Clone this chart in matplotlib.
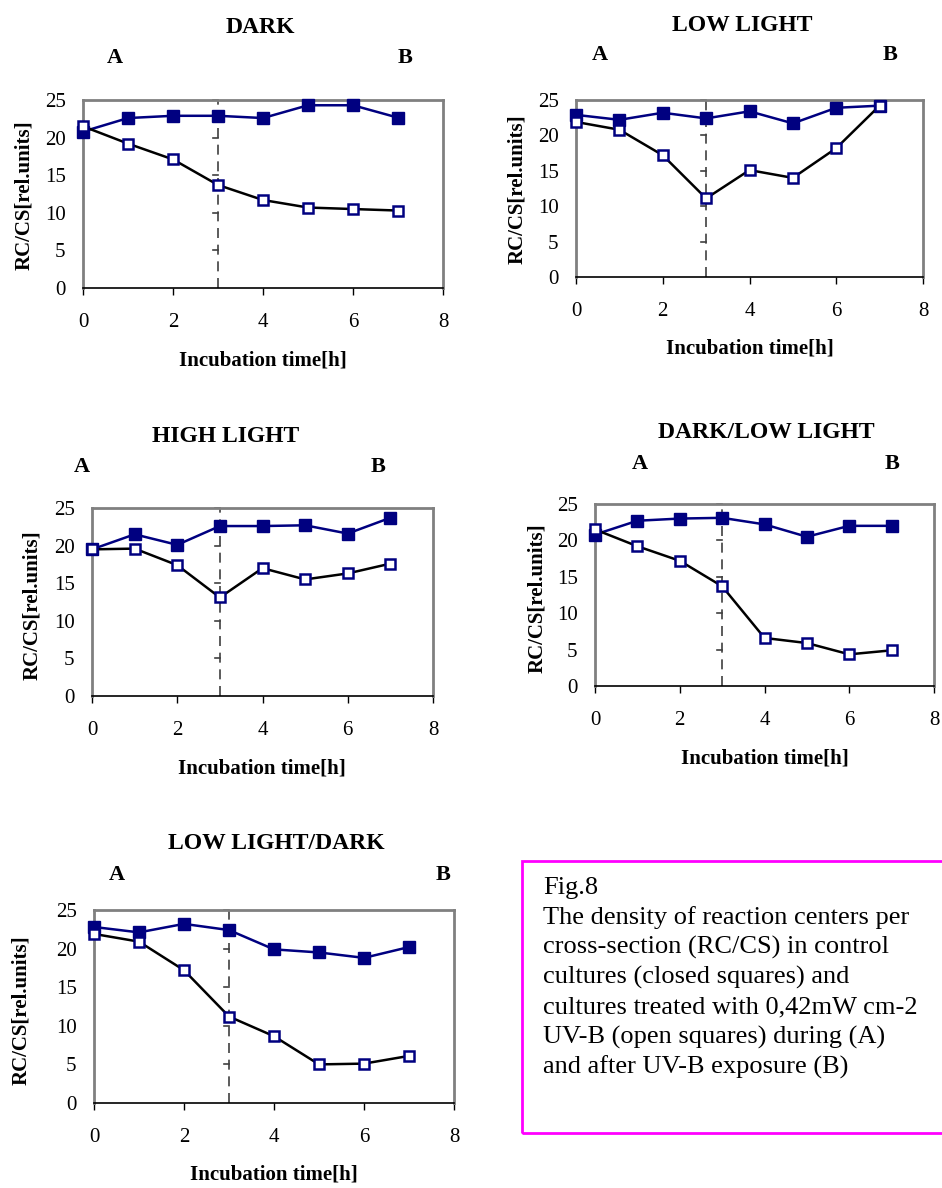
import matplotlib
matplotlib.use("Agg")
import matplotlib.pyplot as plt
from matplotlib.patches import Rectangle

plt.rcParams['font.family'] = ['Liberation Serif', 'DejaVu Serif']

W, H = 942, 1188

hours = [0, 1, 2, 3, 4, 5, 6, 7]

titles = ["DARK", "LOW LIGHT", "HIGH LIGHT", "DARK/LOW LIGHT", "LOW LIGHT/DARK"]

# control cultures (closed squares)
closed = [
    [20.8, 22.6, 22.9, 22.9, 22.6, 24.3, 24.3, 22.65],
    [22.9, 22.2, 23.2, 22.4, 23.4, 21.7, 23.9, 24.2],
    [19.5, 21.5, 20.1, 22.6, 22.6, 22.7, 21.6, 23.7],
    [20.8, 22.7, 23.0, 23.1, 22.2, 20.5, 22.0, 22.0],
    [22.8, 22.1, 23.2, 22.4, 19.9, 19.5, 18.8, 20.2],
]
# UV-B treated (open squares)
opened = [
    [21.5, 19.2, 17.1, 13.7, 11.7, 10.7, 10.5, 10.3],
    [21.9, 20.8, 17.2, 11.1, 15.1, 14.0, 18.2, 24.2],
    [19.5, 19.6, 17.4, 13.1, 17.0, 15.5, 16.3, 17.6],
    [21.5, 19.2, 17.2, 13.7, 6.6, 5.9, 4.35, 4.9],
    [21.9, 20.9, 17.2, 11.2, 8.65, 5.0, 5.1, 6.1],
]

caption = ["Fig.8",
           "The density of reaction centers per",
           "cross-section (RC/CS) in control",
           "cultures (closed squares) and",
           "cultures treated with 0,42mW cm-2",
           "UV-B (open squares) during (A)",
           "and after UV-B exposure (B)"]

# pixel layout: axes box (left, top, right, bottom), baselines of title and A/B, x of A and B, ylabel centre
panels = [
    dict(box=(83, 100, 443, 288), title=(260, 33), ab=(115, 405, 63), xlx=263, yl=(24, 195)),
    dict(box=(576, 100, 923, 277), title=(742, 31), ab=(600, 890, 60), xlx=750, yl=(517, 189)),
    dict(box=(92, 508, 433, 696), title=(226, 442), ab=(82, 378, 472), xlx=262, yl=(32, 605)),
    dict(box=(595, 504, 934, 686), title=(766, 438), ab=(640, 892, 469), xlx=765, yl=(537, 598)),
    dict(box=(94, 910, 454, 1103), title=(276, 849), ab=(117, 443, 880), xlx=274, yl=(21, 1010)),
]

navy = '#000080'
grey = '#808080'

fig = plt.figure(figsize=(W / 100, H / 100), dpi=100)


def fx(x):
    return x / W


def fy(y):
    return 1 - y / H


for i, p in enumerate(panels):
    l, t, r, b = p['box']
    ax = fig.add_axes([fx(l), fy(b), (r - l) / W, (b - t) / H])
    ax.set_xlim(0, 8)
    ax.set_ylim(0, 25)
    for s in ['left', 'top', 'right']:
        ax.spines[s].set_color(grey)
        ax.spines[s].set_linewidth(2)
    ax.spines['bottom'].set_color('black')
    ax.spines['bottom'].set_linewidth(1.2)

    ax.set_xticks([0, 2, 4, 6, 8])
    ax.set_yticks([0, 5, 10, 15, 20, 25])
    ax.tick_params(axis='x', direction='out', length=5, width=1, labelsize=15, pad=13)
    ax.tick_params(axis='y', length=0, labelsize=15, pad=12.5)

    # the y axis crosses at x=3: dashed line with short ticks
    ax.axvline(3, color='#404040', lw=1.2, ls=(0, (6, 4)), zorder=1)
    for yv in [5, 10, 15, 20, 25]:
        ax.plot([2.88, 3], [yv, yv], color='#404040', lw=1.2, zorder=1, clip_on=False)

    ax.plot(hours, closed[i], color=navy, lw=1.8, marker='s', ms=8,
            mfc=navy, mec=navy, zorder=3, clip_on=False)
    ax.plot(hours, opened[i], color='black', lw=1.8, marker='s', ms=7.5,
            mfc='white', mec=navy, mew=1.8, zorder=4, clip_on=False)

    fig.text(fx(p['title'][0]), fy(p['title'][1]), titles[i], ha='center', va='baseline',
             fontsize=17, fontweight='bold')
    ax_, bx_, aby = p['ab']
    fig.text(fx(ax_), fy(aby), "A", ha='center', va='baseline', fontsize=16, fontweight='bold')
    fig.text(fx(bx_), fy(aby), "B", ha='center', va='baseline', fontsize=16, fontweight='bold')
    fig.text(fx(p['xlx']), fy(b + 77), "Incubation time[h]", ha='center', va='baseline',
             fontsize=15, fontweight='bold')
    fig.text(fx(p['yl'][0]), fy(p['yl'][1]), "RC/CS[rel.units]", ha='center', va='center',
             fontsize=15, fontweight='bold', rotation=90)

# caption box, its right side runs off the page
fig.patches.append(Rectangle((fx(522), fy(1133)), (W + 5 - 522) / W, (1133 - 861) / H,
                             transform=fig.transFigure, fill=False, edgecolor='#ff00ff', lw=2))
for k, line in enumerate(caption):
    fig.text(fx(543), fy(888 + k * 29.8), line, ha='left', va='center', fontsize=19)

fig.savefig("out.png", dpi=100)
